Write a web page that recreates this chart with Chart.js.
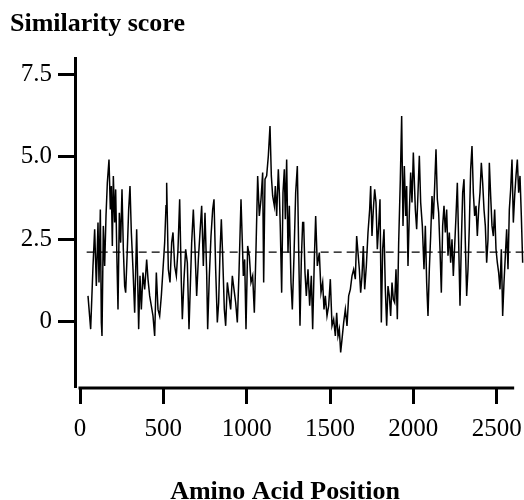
<!DOCTYPE html>
<html><head><meta charset="utf-8">
<script src="https://cdn.jsdelivr.net/npm/chart.js@4/dist/chart.umd.min.js"></script>
<style>html,body{margin:0;padding:0;background:#fff;}canvas{display:block;}</style>
</head><body>
<canvas id="c" width="524" height="500"></canvas>
<script>
// Amino acid positions and similarity scores
const positions = [
48,64,78,88,98,108,114,122,128,132,140,148,156,164,174,182,188,194,200,208,214,222,228,236,244,252,260,268,274,284,292,300,308,318,328,340,
352,360,368,378,388,400,408,418,428,438,448,458,468,478,488,498,508,516,520,530,540,550,558,568,578,588,598,608,614,624,634,644,654,
670,680,690,700,710,720,730,740,750,760,766,776,786,796,804,814,824,832,840,848,856,866,874,884,894,904,914,924,934,944,954,966,974,980,988,
996,1006,1016,1026,1036,1046,1056,1066,1076,1086,1096,1102,1110,1120,1130,1140,1148,1156,1166,1172,1180,1190,1196,1202,1210,1218,1226,1232,1240,1248,1256,1266,1274,1284,1294,1304,1312,1320,1328,1336,
1342,1350,1358,1368,1378,1388,1396,1406,1414,1424,1436,1446,1456,1464,1472,1482,1492,1502,1512,1522,1532,1540,1548,1556,1564,1572,1582,1592,1602,1612,1622,1632,1642,1652,1660,
1676,1684,1692,1700,1708,1718,1728,1738,1744,1752,1760,1768,1776,1784,1792,1800,1808,1816,1824,1832,1840,1848,1856,1864,1872,1880,1888,1896,1904,1912,1922,1930,1938,1946,1954,1960,1968,1976,1984,1992,2000,
2012,2020,2028,2036,2044,2054,2064,2072,2080,2088,2096,2104,2112,2120,2128,2136,2144,2152,2160,2168,2176,2184,2192,2200,2208,2216,2224,2232,2240,2248,2256,2264,2272,2280,2288,2296,2304,2312,2320,2328,2336,
2344,2352,2360,2368,2376,2384,2392,2400,2408,2416,2424,2432,2440,2448,2456,2464,2472,2480,2488,2496,2504,2512,2520,2528,2536,2544,2552,2560,2568,2576,2584,2592,2600,2608,2616,2624,2632,2640,2648,2656
];
const scores = [
0.77,-0.24,1.68,2.80,1.07,3.00,1.18,3.40,-0.04,-0.45,2.90,1.68,3.20,4.21,4.92,3.40,4.11,2.29,4.42,3.00,4.01,1.78,0.36,3.30,2.39,4.01,2.19,1.07,0.87,2.19,3.40,4.11,2.70,1.58,0.26,2.80,
-0.24,1.38,0.36,1.48,0.97,1.88,1.28,0.77,0.47,0.16,-0.45,1.48,0.36,0.16,0.77,1.58,2.39,3.51,4.21,1.58,1.18,2.39,2.70,1.68,1.38,2.19,3.71,1.18,0.06,1.28,2.19,1.78,-0.24,
2.39,3.40,2.19,0.77,1.88,2.70,3.51,1.68,3.30,1.48,-0.24,1.38,2.59,3.40,3.71,1.58,-0.04,0.57,2.09,3.10,1.99,0.36,-0.14,1.18,0.77,0.36,1.38,0.97,0.57,-0.04,1.48,3.71,2.39,1.38,1.88,
-0.24,2.29,1.99,1.18,1.38,0.26,2.19,4.42,3.20,3.71,4.52,1.18,4.32,4.42,5.03,5.94,4.42,3.81,3.51,4.11,3.20,4.62,3.91,2.80,0.87,3.91,4.62,3.10,4.92,2.09,3.51,1.18,0.36,1.99,3.91,4.72,2.19,-0.14,1.88,3.00,
3.00,1.48,0.77,1.58,0.47,1.38,-0.24,1.88,3.20,1.68,2.09,0.87,1.18,0.36,0.77,0.16,0.47,1.28,-0.14,0.06,-0.45,0.26,-0.45,-0.24,-0.95,-0.55,-0.04,0.36,-0.14,0.77,0.97,1.38,1.58,1.28,2.59,
1.58,0.87,1.38,2.29,0.97,1.68,2.70,3.40,4.11,2.59,3.40,4.01,3.61,2.19,2.90,3.71,-0.04,2.19,2.80,0.97,-0.14,1.07,0.77,0.16,1.18,0.67,0.57,1.58,0.06,2.39,4.32,6.24,2.90,4.72,3.20,4.11,1.68,3.30,4.52,3.61,5.13,
3.40,2.80,3.91,5.03,3.61,2.90,1.58,2.90,1.18,0.16,1.58,2.59,3.81,3.10,4.11,5.23,3.71,3.30,2.19,0.87,2.90,3.51,2.70,3.40,1.99,2.70,1.78,2.49,1.38,2.29,3.20,4.21,2.39,0.47,2.39,3.91,4.32,2.39,0.77,1.58,2.90,
4.62,5.33,3.91,3.20,3.51,2.59,3.40,3.91,4.82,4.21,3.40,2.90,1.78,2.49,4.82,3.81,2.90,2.59,3.40,2.19,1.78,1.48,0.97,2.19,0.16,1.18,1.99,2.80,1.58,3.40,4.01,4.92,3.00,3.81,4.42,4.92,3.91,4.42,3.20,1.78
];
// Dashed reference (mean) line
const thresholdValue = 2.1;
const thresholdRange = [40, 2664];
// Axis ticks and titles
const xTickValues = [0, 500, 1000, 1500, 2000, 2500];
const yTickValues = [0, 2.5, 5, 7.5];
const yTickLabels = ['0', '2.5', '5.0', '7.5'];
const xAxisEnd = 2605;
const yTitle = 'Similarity score';
const xTitle = 'Amino Acid Position';

const FONT = "'Liberation Serif','Times New Roman',serif";

const seriesData = positions.map((p, i) => ({x: p, y: scores[i]}));
const thresholdData = thresholdRange.map(p => ({x: p, y: thresholdValue}));

const axisPlugin = {
  id: 'axisDecor',
  afterDraw(chart) {
    const {ctx, scales: {x}, chartArea} = chart;
    ctx.save();
    ctx.strokeStyle = '#000';
    ctx.lineWidth = 3;
    ctx.beginPath();
    const yy = chartArea.bottom + 1;
    ctx.moveTo(x.getPixelForValue(0) - 1.5, yy);
    ctx.lineTo(x.getPixelForValue(xAxisEnd), yy);
    ctx.stroke();
    ctx.fillStyle = '#000';
    ctx.font = "bold 26px " + FONT;
    ctx.textAlign = 'center';
    ctx.textBaseline = 'alphabetic';
    ctx.fillText(xTitle, 285, 499);
    ctx.restore();
  }
};

new Chart(document.getElementById('c'), {
  type: 'line',
  data: {
    datasets: [
      {data: seriesData, borderColor: '#000', borderWidth: 1.5, pointRadius: 0, tension: 0, fill: false},
      {data: thresholdData, borderColor: '#000', borderWidth: 1.3, borderDash: [8, 5], pointRadius: 0, fill: false}
    ]
  },
  options: {
    responsive: false,
    animation: false,
    devicePixelRatio: 1,
    layout: {padding: {top: 0, left: 10, right: 0, bottom: 0}},
    plugins: {
      legend: {display: false},
      tooltip: {enabled: false},
      title: {
        display: true, text: yTitle, align: 'start', color: '#000',
        font: {family: FONT, size: 26, weight: 'bold'},
        padding: {top: 9, bottom: 18}
      }
    },
    scales: {
      x: {
        type: 'linear', min: -30, max: 2664,
        afterBuildTicks: s => { s.ticks = xTickValues.map(v => ({value: v})); },
        afterFit: s => { s.height = 113; s.paddingLeft = 0; s.paddingRight = 0; },
        border: {display: false},
        grid: {display: true, drawOnChartArea: false, drawTicks: true, tickLength: 17, tickWidth: 3, tickColor: '#000', color: '#000'},
        ticks: {color: '#000', font: {family: FONT, size: 25}, padding: 10, maxRotation: 0, autoSkip: false,
                callback: v => String(v)}
      },
      y: {
        min: -2, max: 8,
        afterBuildTicks: s => { s.ticks = yTickValues.map(v => ({value: v})); },
        afterFit: s => { s.width = 65; s.paddingTop = 0; s.paddingBottom = 0; },
        border: {display: true, width: 3, color: '#000'},
        grid: {display: true, drawOnChartArea: false, drawTicks: true, tickLength: 17, tickWidth: 3, tickColor: '#000', color: '#000'},
        ticks: {color: '#000', font: {family: FONT, size: 25}, padding: 6,
                callback: (v, i) => yTickLabels[i]}
      }
    }
  },
  plugins: [axisPlugin]
});
</script>
</body></html>
